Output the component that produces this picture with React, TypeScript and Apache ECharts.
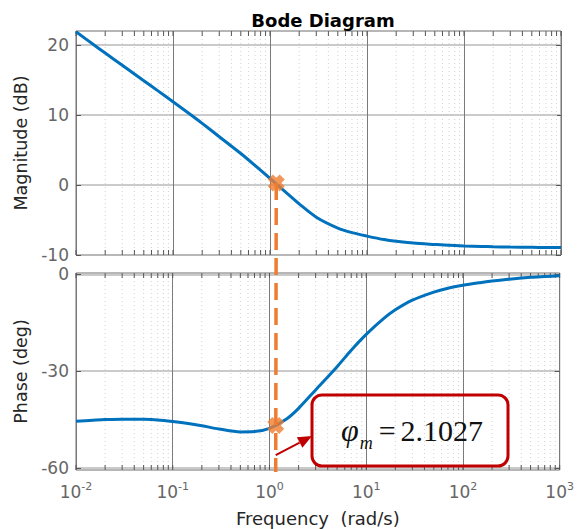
import React, { useEffect, useRef } from 'react';
import * as echarts from 'echarts';

// ---- data ----
const freq = [0.01, 0.015, 0.02, 0.03, 0.05, 0.07, 0.1, 0.15, 0.2, 0.3, 0.5, 0.7, 1.0, 1.5, 2, 3, 5, 7, 10, 15, 20, 30, 50, 70, 100, 150, 200, 300, 500, 700, 1000];
const magDb = [21.9, 20.1, 18.85, 17.1, 14.9, 13.45, 11.9, 10.1, 8.8, 6.9, 4.5, 2.8, 0.95, -1.2, -2.7, -4.6, -6.15, -6.8, -7.3, -7.8, -8.05, -8.3, -8.5, -8.62, -8.7, -8.77, -8.82, -8.87, -8.91, -8.93, -8.94];
const phaseDeg = [-45.5, -45.2, -45.0, -44.85, -44.9, -45.1, -45.6, -46.3, -46.9, -47.9, -48.8, -48.7, -47.7, -44.8, -41.5, -35.8, -28.6, -23.5, -18.6, -13.8, -11.0, -8.0, -5.5, -4.3, -3.4, -2.6, -2.1, -1.5, -0.95, -0.7, -0.45];
const crossoverFreq = 1.16;
const crossoverMag = 0.3;
const crossoverPhase = -46.8;
const marginValue = '2.1027';
const decades = [0.01, 0.1, 1, 10, 100, 1000];
const minorMultipliers = [2, 3, 4, 5, 6, 7, 8, 9];
const magTicks = [-10, 0, 10, 20];
const phaseTicks = [-60, -30, 0];

const FONT = 'DejaVu Sans';
const BLUE = '#0072BD';
const ORANGE = '#ED7D31';
const RED = '#C00000';
const TICK_GRAY = '#666666';

const xTickData: number[][] = [];
decades.forEach((d, i) => {
  xTickData.push([d, 0, 0]);
  if (i < decades.length - 1) minorMultipliers.forEach((m) => xTickData.push([d * m, 0, 1]));
});

const crossPath = 'path://M0,3L3,0L5,2L7,0L10,3L8,5L10,7L7,10L5,8L3,10L0,7L2,5Z';

function tickRenderer(params: any, api: any) {
  const v = api.value(0);
  const minor = api.value(2);
  const cs = params.coordSys;
  const px = api.coord([v, api.value(1)])[0];
  const children: any[] = [
    { type: 'line', shape: { x1: px, y1: cs.y, x2: px, y2: cs.y + 5 }, style: { stroke: '#555', lineWidth: 1 } },
    { type: 'line', shape: { x1: px, y1: cs.y + cs.height, x2: px, y2: cs.y + cs.height - 5 }, style: { stroke: '#555', lineWidth: 1 } },
  ];
  if (minor) {
    children.unshift({
      type: 'line',
      shape: { x1: px, y1: cs.y, x2: px, y2: cs.y + cs.height },
      style: { stroke: '#d2d2d2', lineWidth: 1, lineDash: [1, 3] },
    });
  }
  return { type: 'group', children };
}

export default function App() {
  const ref = useRef<HTMLDivElement>(null);
  useEffect(() => {
    if (!ref.current) return;
    const chart = echarts.init(ref.current, undefined, { renderer: 'svg' });
    const grids = [
      { left: 76, top: 31, width: 485, height: 224, show: true, borderColor: '#6e6e6e', borderWidth: 1, backgroundColor: '#fff' },
      { left: 76, top: 273, width: 485, height: 197, show: true, borderColor: '#6e6e6e', borderWidth: 1, backgroundColor: '#fff' },
    ];
    const xBase = (gi: number) => ({
      type: 'log',
      logBase: 10,
      gridIndex: gi,
      min: 0.01,
      max: 1000,
      position: 'bottom',
      axisLine: { show: false, onZero: false },
      axisTick: { show: false },
      splitLine: { show: true, lineStyle: { color: '#7a7a7a', width: 1 } },
    });
    const yAxis = (gi: number, min: number, max: number, ticks: number[], name: string, right: boolean) => ({
      type: 'value',
      gridIndex: gi,
      min,
      max,
      position: right ? 'right' : 'left',
      axisLine: { show: false, onZero: false },
      axisTick: { show: true, inside: true, length: 5, customValues: ticks, lineStyle: { color: '#555' } },
      axisLabel: right
        ? { show: false }
        : { show: true, customValues: ticks, margin: 7, color: TICK_GRAY, fontFamily: FONT, fontSize: 17 },
      splitLine: right ? { show: false } : { show: true, lineStyle: { color: '#b8b8b8', width: 1.5 } },
      name: right ? '' : name,
      nameLocation: 'middle',
      nameGap: 44,
      nameTextStyle: { fontFamily: FONT, fontSize: 17.5, color: '#262626' },
    });
    const curve = (xi: number, yi: number, values: number[]) => ({
      type: 'line',
      xAxisIndex: xi,
      yAxisIndex: yi,
      data: freq.map((f, i) => [f, values[i]]),
      smooth: 0.3,
      showSymbol: false,
      lineStyle: { color: BLUE, width: 3 },
      z: 2,
    });

    chart.setOption({
      animation: false,
      title: {
        text: 'Bode Diagram',
        left: 318,
        top: 6,
        textAlign: 'center',
        textStyle: { fontFamily: FONT, fontWeight: 'bold', fontSize: 18, color: '#000' },
      },
      grid: grids,
      xAxis: [
        { ...xBase(0), axisLabel: { show: false } },
        {
          ...xBase(1),
          axisLabel: {
            show: true,
            margin: 11,
            formatter: (v: number) => `{b|10}{s|${Math.round(Math.log10(v))}}`,
            rich: {
              b: { fontFamily: FONT, fontSize: 17, color: TICK_GRAY },
              s: { fontFamily: FONT, fontSize: 11, color: TICK_GRAY, padding: [0, 0, 11, 0] },
            },
          },
          name: 'Frequency  (rad/s)',
          nameLocation: 'middle',
          nameGap: 39,
          nameTextStyle: { fontFamily: FONT, fontSize: 18, color: '#262626' },
        },
      ],
      yAxis: [
        yAxis(0, -10, 22, magTicks, 'Magnitude (dB)', false),
        yAxis(0, -10, 22, magTicks, '', true),
        yAxis(1, -60.6, 0.4, phaseTicks, 'Phase (deg)', false),
        yAxis(1, -60.6, 0.4, phaseTicks, '', true),
      ],
      series: [
        {
          type: 'custom',
          xAxisIndex: 0,
          yAxisIndex: 0,
          data: xTickData,
          encode: { x: 0, y: 1 },
          renderItem: tickRenderer,
          silent: true,
          z: 1,
        },
        {
          type: 'custom',
          xAxisIndex: 1,
          yAxisIndex: 2,
          data: xTickData.map((d) => [d[0], -30, d[2]]),
          encode: { x: 0, y: 1 },
          renderItem: tickRenderer,
          silent: true,
          z: 1,
        },
        curve(0, 0, magDb),
        curve(1, 2, phaseDeg),
        {
          type: 'scatter',
          xAxisIndex: 0,
          yAxisIndex: 0,
          data: [[crossoverFreq, crossoverMag]],
          symbol: crossPath,
          symbolSize: 17,
          itemStyle: { color: ORANGE },
          z: 6,
        },
        {
          type: 'scatter',
          xAxisIndex: 1,
          yAxisIndex: 2,
          data: [[crossoverFreq, crossoverPhase]],
          symbol: crossPath,
          symbolSize: 17,
          itemStyle: { color: ORANGE },
          z: 6,
        },
      ],
    });

    const pTop = chart.convertToPixel({ xAxisIndex: 0, yAxisIndex: 0 }, [crossoverFreq, crossoverMag]) as number[];
    const pBottom = chart.convertToPixel({ xAxisIndex: 1, yAxisIndex: 2 }, [crossoverFreq, -60.6]) as number[];
    const pArrowStart = chart.convertToPixel({ xAxisIndex: 1, yAxisIndex: 2 }, [crossoverFreq, -56.0]) as number[];
    const tip = [312, 436];
    const dx = tip[0] - pArrowStart[0];
    const dy = tip[1] - pArrowStart[1];
    const len = Math.sqrt(dx * dx + dy * dy);
    const ux = dx / len;
    const uy = dy / len;
    const hl = 14;
    const hw = 6;
    const bx = tip[0] - hl * ux;
    const by = tip[1] - hl * uy;

    chart.setOption({
      graphic: [
        {
          type: 'line',
          shape: { x1: pTop[0], y1: pTop[1], x2: pBottom[0], y2: pBottom[1] + 2 },
          style: { stroke: ORANGE, lineWidth: 3.5, lineDash: [17, 8] },
          z: 4,
          silent: true,
        },
        {
          type: 'line',
          shape: { x1: pArrowStart[0], y1: pArrowStart[1], x2: bx, y2: by },
          style: { stroke: RED, lineWidth: 2 },
          z: 7,
        },
        {
          type: 'polygon',
          shape: {
            points: [
              [tip[0], tip[1]],
              [bx - hw * uy, by + hw * ux],
              [bx + hw * uy, by - hw * ux],
            ],
          },
          style: { fill: RED },
          z: 7,
        },
        {
          type: 'rect',
          shape: { x: 312, y: 395, width: 196, height: 71, r: 10 },
          style: { fill: 'none', stroke: RED, lineWidth: 3 },
          z: 7,
        },
        {
          type: 'text',
          x: 341,
          y: 430,
          z: 8,
          style: {
            text: `{phi|φ}{m|m}{eq|=}{num|${marginValue}}`,
            verticalAlign: 'middle',
            align: 'left',
            rich: {
              phi: { fontFamily: 'Liberation Serif', fontStyle: 'italic', fontSize: 32, fill: '#111' },
              m: { fontFamily: 'Liberation Serif', fontStyle: 'italic', fontSize: 18, fill: '#111', padding: [26, 0, 0, 1] },
              eq: { fontFamily: 'Liberation Serif', fontSize: 30, fill: '#111', padding: [0, 5, 0, 6] },
              num: { fontFamily: 'Liberation Serif', fontSize: 30, fill: '#111' },
            },
          },
        },
      ],
    });

    return () => chart.dispose();
  }, []);
  return <div ref={ref} style={{ position: 'absolute', left: 0, top: 0, width: 577, height: 529 }} />;
}
